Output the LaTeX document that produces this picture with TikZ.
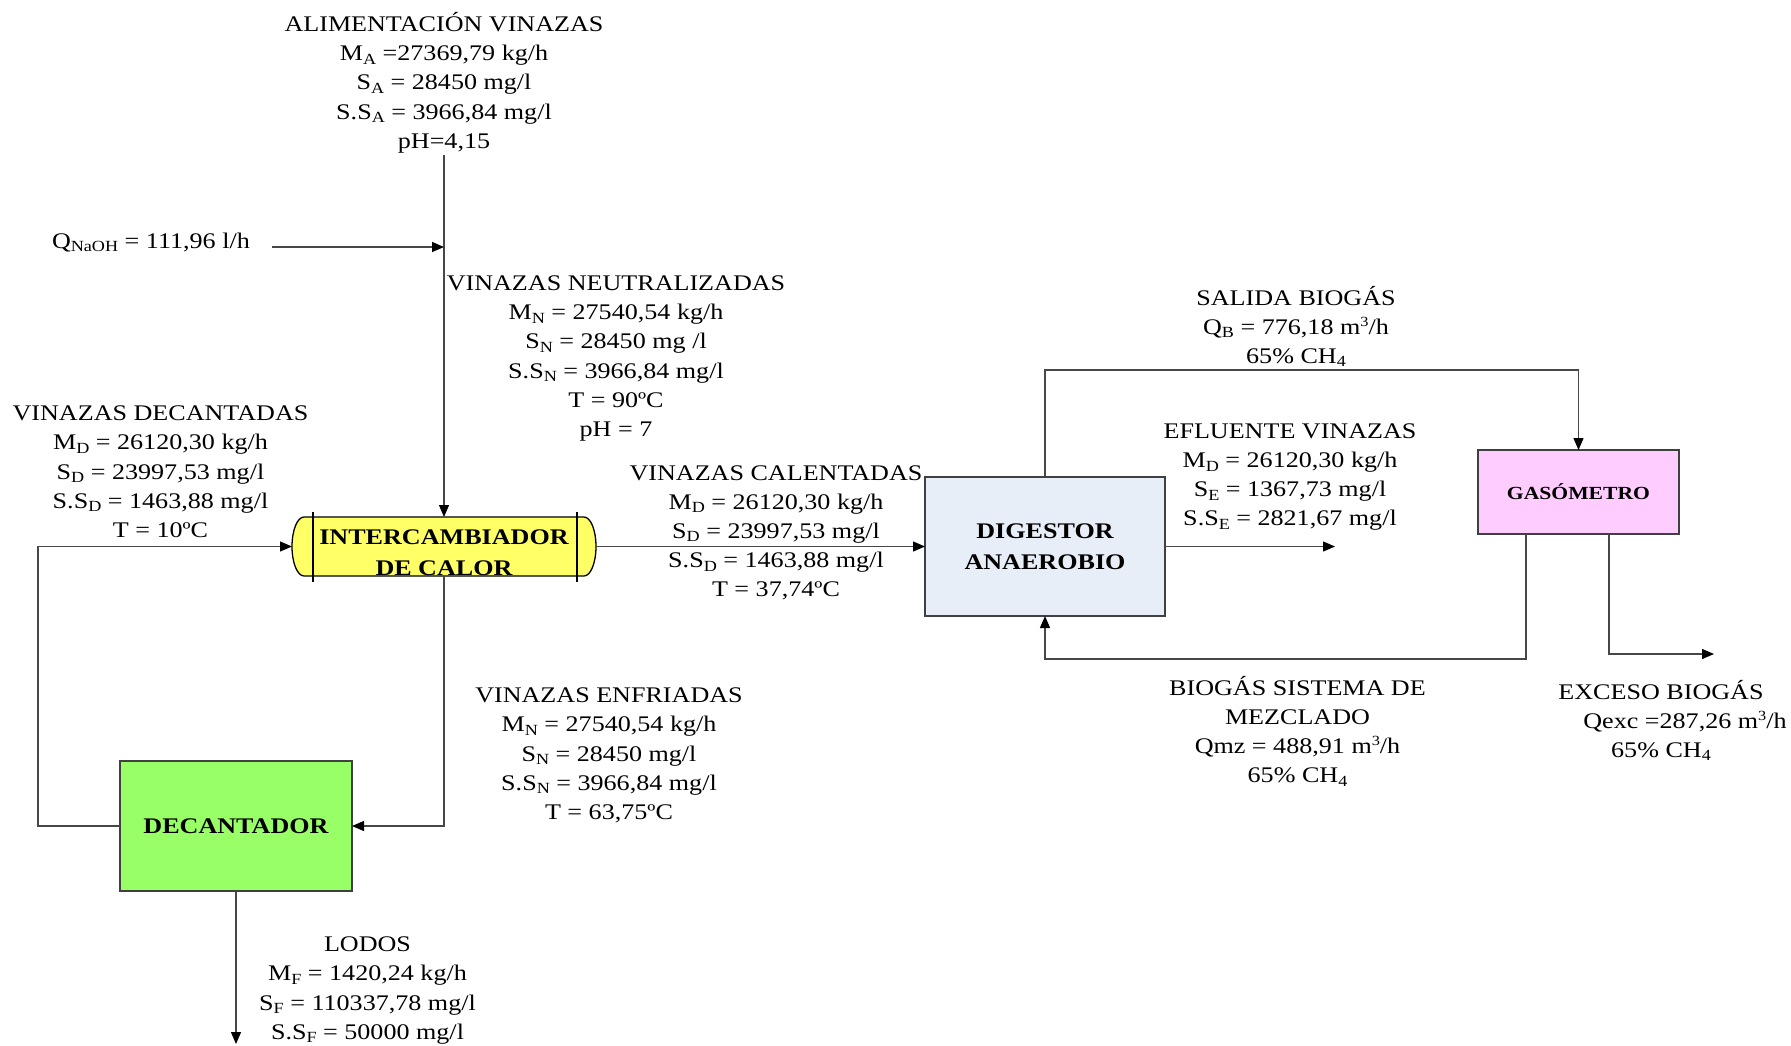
\documentclass[tikz,border=0pt]{standalone}
\usepackage{fontspec}
\setmainfont{Liberation Serif}[FakeStretch=1.17]
\usetikzlibrary{arrows.meta}

\definecolor{hxyellow}{HTML}{FFFF66}
\definecolor{digblue}{HTML}{E8EEF8}
\definecolor{gaspink}{HTML}{FFCCFF}
\definecolor{decgreen}{HTML}{99FF66}

% lowered and raised indices
\newcommand\lo[1]{\raisebox{-3.5pt}{\fontsize{15.5}{15.5}\selectfont #1}}
\newcommand\hi[1]{\raisebox{8pt}{\fontsize{14}{14}\selectfont #1}}

\begin{document}
\begin{tikzpicture}[x=1pt,y=-1pt,
  every node/.style={font=\fontsize{22.3}{29.2}\selectfont, inner sep=0pt, outer sep=0pt},
  % multi-line data blocks are placed by the baseline of their last line
  txt/.style={align=center, anchor=base},
  boldtxt/.style={font=\fontsize{22.3}{30.5}\selectfont\bfseries},
  unitbox/.style={draw=black!75, line width=1.3pt, align=center, boldtxt},
  flow/.style={draw=black!72, line width=1.3pt,
    -{Triangle[length=12pt,width=10pt,color=black]}},
  pipe/.style={draw=black!72, line width=1.3pt}]

% page
\fill[white] (0,0) rectangle (1791,1045);
\useasboundingbox (0,0) rectangle (1791,1045);

% ---- process units ----
\node[minimum width=304pt, minimum height=59pt] (hx) at (444,546.5) {};
\node[unitbox, fill=digblue, minimum width=240pt, minimum height=139pt] (dig) at (1045,546.5) {DIGESTOR\\ANAEROBIO};
\node[unitbox, fill=gaspink, minimum width=201pt, minimum height=84pt,
      font=\fontsize{18.5}{22}\selectfont\bfseries] (gas) at (1578.5,492) {GASÓMETRO};
\node[unitbox, fill=decgreen, minimum width=232pt, minimum height=130pt] (dec) at (236,826) {DECANTADOR};

% heat exchanger body
\draw[fill=hxyellow, line width=1.3pt]
  ([xshift=12pt]hx.north west) -- ([xshift=-12pt]hx.north east)
  arc[start angle=90, end angle=-90, x radius=12pt, y radius=29.5pt]
  -- ([xshift=12pt]hx.south west)
  arc[start angle=270, end angle=90, x radius=12pt, y radius=29.5pt] -- cycle;
\draw[line width=1.3pt] ([xshift=21pt,yshift=5pt]hx.north west) -- ([xshift=21pt,yshift=-6pt]hx.south west);
\draw[line width=1.3pt] ([xshift=-19pt,yshift=5pt]hx.north east) -- ([xshift=-19pt,yshift=-6pt]hx.south east);
\node[align=center, anchor=base, boldtxt] (hxlbl) at (444,575) {INTERCAMBIADOR\\DE CALOR};

% ---- free stream ends ----
\coordinate (feed) at (444,155);
\coordinate (naoh) at (272,247);
\coordinate (mix) at (444,247);
\coordinate (effout) at (1335,546.5);
\coordinate (excout) at (1714,654);
\coordinate (sludge) at (236,1044);

% ---- streams ----
\draw[flow] (feed) -- (hx.north);
\draw[flow] (naoh) -- (mix);
\draw[flow] (dec.west) -- ++(-82,0) |- (hx.west);
\draw[flow] (hx.south) |- (dec.east);
\draw[flow] (hx.east) -- (dig.west);
\draw[flow] (dig.east) -- (effout);
\draw[flow] (dig.north) -- ++(0,-107) -| (gas.north);
\draw[flow] ([xshift=-52.5pt]gas.south) -- ++(0,125) -| (dig.south);
\draw[flow] ([xshift=30.5pt]gas.south) |- (excout);
\draw[flow] (dec.south) -- (sludge);

% ---- stream data ----
\node[txt] (alim) at (444,148.3) {ALIMENTACIÓN VINAZAS\\M\lo{A} =27369,79 kg/h\\S\lo{A} = 28450 mg/l\\S.S\lo{A} = 3966,84 mg/l\\pH=4,15};
\node[anchor=base west] (qnaoh) at (52,248) {Q\lo{NaOH} = 111,96 l/h};
\node[txt] (neut) at (616,436.5) {VINAZAS NEUTRALIZADAS\\M\lo{N} = 27540,54 kg/h\\S\lo{N} = 28450 mg /l\\S.S\lo{N} = 3966,84 mg/l\\T = 90ºC\\pH = 7};
\node[txt] (decant) at (160.5,537.5) {VINAZAS DECANTADAS\\M\lo{D} = 26120,30 kg/h\\S\lo{D} = 23997,53 mg/l\\S.S\lo{D} = 1463,88 mg/l\\T = 10ºC};
\node[txt] (calent) at (776,596.8) {VINAZAS CALENTADAS\\M\lo{D} = 26120,30 kg/h\\S\lo{D} = 23997,53 mg/l\\S.S\lo{D} = 1463,88 mg/l\\T = 37,74ºC};
\node[txt] (enfr) at (609,819.5) {VINAZAS ENFRIADAS\\M\lo{N} = 27540,54 kg/h\\S\lo{N} = 28450 mg/l\\S.S\lo{N} = 3966,84 mg/l\\T = 63,75ºC};
\node[txt] (lodos) at (367.5,1039.3) {LODOS\\M\lo{F} = 1420,24 kg/h\\S\lo{F} = 110337,78 mg/l\\S.S\lo{F} = 50000 mg/l};
\node[txt] (salida) at (1296,363.4) {SALIDA BIOGÁS\\Q\lo{B} = 776,18 m\hi{3}/h\\65\% CH\lo{4}};
\node[txt] (efluente) at (1290,525.9) {EFLUENTE VINAZAS\\M\lo{D} = 26120,30 kg/h\\S\lo{E} = 1367,73 mg/l\\S.S\lo{E} = 2821,67 mg/l};
\node[txt] (mezcla) at (1297.5,782.6) {BIOGÁS SISTEMA DE\\MEZCLADO\\Qmz = 488,91 m\hi{3}/h\\65\% CH\lo{4}};
\node[txt] (exceso) at (1661,757.4) {EXCESO BIOGÁS\\\hspace*{48pt}Qexc =287,26 m\hi{3}/h\\65\% CH\lo{4}};

\end{tikzpicture}
\end{document}
